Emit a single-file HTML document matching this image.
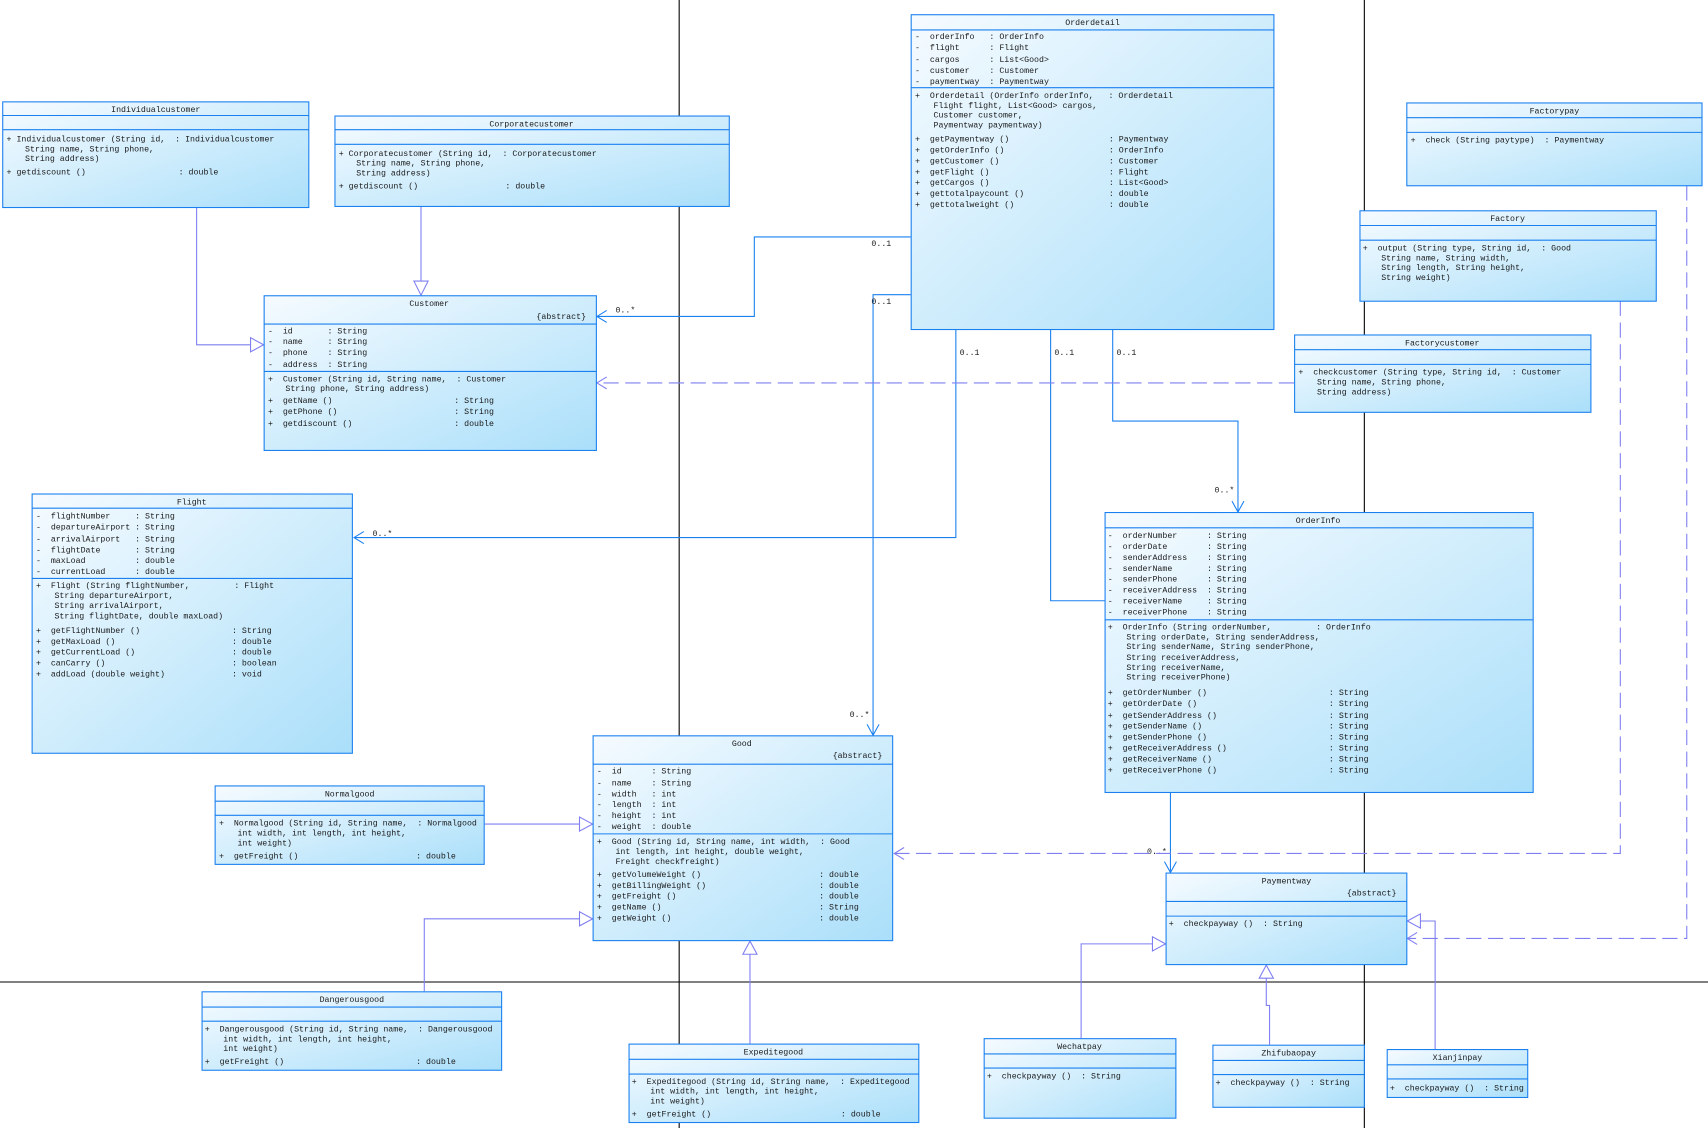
<!DOCTYPE html>
<html><head><meta charset="utf-8"><style>
html,body{margin:0;padding:0;background:#fff;}
svg{display:block;}
text{font-family:"Liberation Mono",monospace;font-size:7.6px;fill:#1a1a1a;white-space:pre;}
.b{fill:url(#g);stroke:#1a80f0;stroke-width:1;}
.l{stroke:#1a80f0;stroke-width:1;}
.a{stroke:#1a80f0;stroke-width:1;fill:none;}
.gz{stroke:#7f7ff2;stroke-width:1;fill:none;}
.tri{stroke:#7f7ff2;stroke-width:1;fill:#fff;}
.d{stroke:#7f7ff2;stroke-width:1;fill:none;stroke-dasharray:14,6;}
.k{stroke:#000;stroke-width:1;}
.c{text-anchor:middle;}
.r{text-anchor:end;}
</style></head><body>
<svg width="1708" height="1128" viewBox="0 0 1568 1035.5" xmlns="http://www.w3.org/2000/svg" xml:space="preserve">
<defs><linearGradient id="g" x1="0" y1="0" x2="1" y2="1"><stop offset="0" stop-color="#f6fbff"/><stop offset="1" stop-color="#aadffa"/></linearGradient></defs>

<line class="k" x1="623.5" y1="0" x2="623.5" y2="1036"/>
<line class="k" x1="1252.5" y1="0" x2="1252.5" y2="1036"/>
<line class="k" x1="0" y1="901.5" x2="1568" y2="901.5"/>

<polyline class="gz" points="180.5,190 180.5,316.5 232,316.5"/>
<polygon class="tri" points="242,316.5 230,310 230,323"/>
<polyline class="gz" points="386.5,189 386.5,259"/>
<polygon class="tri" points="386.5,271 380,258 393,258"/>

<polyline class="a" points="836,217.5 692.5,217.5 692.5,290.5 548,290.5"/>
<polyline class="a" points="557,285 548,290.5 557,296"/>
<text x="565" y="287">0..*</text><text x="800" y="226">0..1</text>

<polyline class="a" points="836,270.5 801.5,270.5 801.5,675"/>
<polyline class="a" points="796,665 801.5,675 807,665"/>
<text x="800" y="279">0..1</text><text x="780" y="658">0..*</text>

<polyline class="a" points="877.5,302 877.5,493.5 325,493.5"/>
<polyline class="a" points="334,488 325,493.5 334,499"/>
<text x="881" y="326">0..1</text><text x="342" y="492">0..*</text>

<polyline class="a" points="964.5,302 964.5,551.5 1014,551.5"/>
<text x="968" y="326">0..1</text>

<polyline class="a" points="1021.5,302 1021.5,386.5 1136.5,386.5 1136.5,470"/>
<polyline class="a" points="1131,460 1136.5,470 1142,460"/>
<text x="1025" y="326">0..1</text><text x="1115" y="452">0..*</text>

<polyline class="a" points="1074.5,727 1074.5,801"/>
<polyline class="a" points="1069,791 1074.5,801 1080,791"/>
<text x="1053" y="784">0..*</text>

<polyline class="d" points="1188,351.5 548,351.5"/>
<polyline class="gz" points="557,346 548,351.5 557,357"/>
<polyline class="d" points="1487.5,276 1487.5,783.5 821,783.5"/>
<polyline class="gz" points="830,778 821,783.5 830,789"/>
<polyline class="d" points="1548.5,170 1548.5,861.5 1292,861.5"/>
<polyline class="gz" points="1301,856 1292,861.5 1301,867"/>

<polyline class="gz" points="445,756.5 532,756.5"/>
<polygon class="tri" points="544,756.5 532,750 532,763"/>
<polyline class="gz" points="389.5,910 389.5,843.5 532,843.5"/>
<polygon class="tri" points="544,843.5 532,837 532,850"/>
<polyline class="gz" points="688.5,958 688.5,876"/>
<polygon class="tri" points="688.5,864 682,876 695,876"/>
<polyline class="gz" points="992.5,953 992.5,866.5 1058,866.5"/>
<polygon class="tri" points="1070,866.5 1058,860 1058,873"/>
<polyline class="gz" points="1165.5,959 1165.5,923 1162.5,923 1162.5,898"/>
<polygon class="tri" points="1162.5,886 1156,898 1169,898"/>
<polyline class="gz" points="1317.5,963 1317.5,845.5 1303,845.5"/>
<polygon class="tri" points="1292,845.5 1304,839 1304,852"/>

<rect class="b" x="2.5" y="93.5" width="281" height="97"/>
<line class="l" x1="2.5" y1="106" x2="283.5" y2="106"/><line class="l" x1="2.5" y1="119" x2="283.5" y2="119"/>
<text class="c" x="143" y="103">Individualcustomer</text>
<text x="6" y="130">+ Individualcustomer (String id,  : Individualcustomer</text>
<text x="23" y="139">String name, String phone,</text>
<text x="23" y="148">String address)</text>
<text x="6" y="160">+ getdiscount ()</text><text x="164" y="160">: double</text>

<rect class="b" x="307.5" y="106.5" width="362" height="83"/>
<line class="l" x1="307.5" y1="119" x2="669.5" y2="119"/><line class="l" x1="307.5" y1="132.5" x2="669.5" y2="132.5"/>
<text class="c" x="488" y="116">Corporatecustomer</text>
<text x="311" y="143">+ Corporatecustomer (String id,  : Corporatecustomer</text>
<text x="327" y="152">String name, String phone,</text>
<text x="327" y="161">String address)</text>
<text x="311" y="173">+ getdiscount ()</text><text x="464" y="173">: double</text>

<rect class="b" x="242.5" y="271.5" width="305" height="142"/>
<line class="l" x1="242.5" y1="297.5" x2="547.5" y2="297.5"/><line class="l" x1="242.5" y1="341" x2="547.5" y2="341"/>
<text class="c" x="394" y="281">Customer</text><text class="r" x="538" y="293">{abstract}</text>
<text x="246" y="306">-  id       : String</text>
<text x="246" y="316">-  name     : String</text>
<text x="246" y="326">-  phone    : String</text>
<text x="246" y="337">-  address  : String</text>
<text x="246" y="350">+  Customer (String id, String name,  : Customer</text>
<text x="262" y="359">String phone, String address)</text>
<text x="246" y="370">+  getName ()</text><text x="417" y="370">: String</text>
<text x="246" y="380">+  getPhone ()</text><text x="417" y="380">: String</text>
<text x="246" y="391">+  getdiscount ()</text><text x="417" y="391">: double</text>

<rect class="b" x="836.5" y="13.5" width="333" height="289"/>
<line class="l" x1="836.5" y1="27.5" x2="1169.5" y2="27.5"/><line class="l" x1="836.5" y1="80.5" x2="1169.5" y2="80.5"/>
<text class="c" x="1003" y="23">Orderdetail</text>
<text x="840" y="36">-  orderInfo   : OrderInfo</text>
<text x="840" y="46">-  flight      : Flight</text>
<text x="840" y="57">-  cargos      : List&lt;Good&gt;</text>
<text x="840" y="67">-  customer    : Customer</text>
<text x="840" y="77">-  paymentway  : Paymentway</text>
<text x="840" y="90">+  Orderdetail (OrderInfo orderInfo,   : Orderdetail</text>
<text x="857" y="99">Flight flight, List&lt;Good&gt; cargos,</text>
<text x="857" y="108">Customer customer,</text>
<text x="857" y="117">Paymentway paymentway)</text>
<text x="840" y="130">+  getPaymentway ()</text><text x="1018" y="130">: Paymentway</text>
<text x="840" y="140">+  getOrderInfo ()</text><text x="1018" y="140">: OrderInfo</text>
<text x="840" y="150">+  getCustomer ()</text><text x="1018" y="150">: Customer</text>
<text x="840" y="160">+  getFlight ()</text><text x="1018" y="160">: Flight</text>
<text x="840" y="170">+  getCargos ()</text><text x="1018" y="170">: List&lt;Good&gt;</text>
<text x="840" y="180">+  gettotalpaycount ()</text><text x="1018" y="180">: double</text>
<text x="840" y="190">+  gettotalweight ()</text><text x="1018" y="190">: double</text>

<rect class="b" x="1291.5" y="94.5" width="271" height="76"/>
<line class="l" x1="1291.5" y1="108" x2="1562.5" y2="108"/><line class="l" x1="1291.5" y1="121.5" x2="1562.5" y2="121.5"/>
<text class="c" x="1427" y="104">Factorypay</text>
<text x="1295" y="131">+  check (String paytype)  : Paymentway</text>

<rect class="b" x="1248.5" y="193.5" width="272" height="83"/>
<line class="l" x1="1248.5" y1="207" x2="1520.5" y2="207"/><line class="l" x1="1248.5" y1="220.5" x2="1520.5" y2="220.5"/>
<text class="c" x="1384" y="203">Factory</text>
<text x="1251" y="230">+  output (String type, String id,  : Good</text>
<text x="1268" y="239">String name, String width,</text>
<text x="1268" y="248">String length, String height,</text>
<text x="1268" y="257">String weight)</text>

<rect class="b" x="1188.5" y="307.5" width="272" height="71"/>
<line class="l" x1="1188.5" y1="321" x2="1460.5" y2="321"/><line class="l" x1="1188.5" y1="334.5" x2="1460.5" y2="334.5"/>
<text class="c" x="1324" y="317">Factorycustomer</text>
<text x="1192" y="344">+  checkcustomer (String type, String id,  : Customer</text>
<text x="1209" y="353">String name, String phone,</text>
<text x="1209" y="362">String address)</text>

<rect class="b" x="29.5" y="453.5" width="294" height="238"/>
<line class="l" x1="29.5" y1="466.5" x2="323.5" y2="466.5"/><line class="l" x1="29.5" y1="531" x2="323.5" y2="531"/>
<text class="c" x="176" y="463">Flight</text>
<text x="33" y="476">-  flightNumber     : String</text>
<text x="33" y="486">-  departureAirport : String</text>
<text x="33" y="497">-  arrivalAirport   : String</text>
<text x="33" y="507">-  flightDate       : String</text>
<text x="33" y="517">-  maxLoad          : double</text>
<text x="33" y="527">-  currentLoad      : double</text>
<text x="33" y="540">+  Flight (String flightNumber,         : Flight</text>
<text x="50" y="549">String departureAirport,</text>
<text x="50" y="558">String arrivalAirport,</text>
<text x="50" y="568">String flightDate, double maxLoad)</text>
<text x="33" y="581">+  getFlightNumber ()</text><text x="213" y="581">: String</text>
<text x="33" y="591">+  getMaxLoad ()</text><text x="213" y="591">: double</text>
<text x="33" y="601">+  getCurrentLoad ()</text><text x="213" y="601">: double</text>
<text x="33" y="611">+  canCarry ()</text><text x="213" y="611">: boolean</text>
<text x="33" y="621">+  addLoad (double weight)</text><text x="213" y="621">: void</text>

<rect class="b" x="197.5" y="721.5" width="247" height="72"/>
<line class="l" x1="197.5" y1="735.5" x2="444.5" y2="735.5"/><line class="l" x1="197.5" y1="748.5" x2="444.5" y2="748.5"/>
<text class="c" x="321" y="731">Normalgood</text>
<text x="201" y="758">+  Normalgood (String id, String name,  : Normalgood</text>
<text x="218" y="767">int width, int length, int height,</text>
<text x="218" y="776">int weight)</text>
<text x="201" y="788">+  getFreight ()</text><text x="382" y="788">: double</text>

<rect class="b" x="544.5" y="675.5" width="275" height="188"/>
<line class="l" x1="544.5" y1="701.5" x2="819.5" y2="701.5"/><line class="l" x1="544.5" y1="765.5" x2="819.5" y2="765.5"/>
<text class="c" x="681" y="685">Good</text><text class="r" x="810" y="696">{abstract}</text>
<text x="548" y="710">-  id      : String</text>
<text x="548" y="721">-  name    : String</text>
<text x="548" y="731">-  width   : int</text>
<text x="548" y="741">-  length  : int</text>
<text x="548" y="751">-  height  : int</text>
<text x="548" y="761">-  weight  : double</text>
<text x="548" y="775">+  Good (String id, String name, int width,  : Good</text>
<text x="565" y="784">int length, int height, double weight,</text>
<text x="565" y="793">Freight checkfreight)</text>
<text x="548" y="805">+  getVolumeWeight ()</text><text x="752" y="805">: double</text>
<text x="548" y="815">+  getBillingWeight ()</text><text x="752" y="815">: double</text>
<text x="548" y="825">+  getFreight ()</text><text x="752" y="825">: double</text>
<text x="548" y="835">+  getName ()</text><text x="752" y="835">: String</text>
<text x="548" y="845">+  getWeight ()</text><text x="752" y="845">: double</text>

<rect class="b" x="185.5" y="910.5" width="275" height="72"/>
<line class="l" x1="185.5" y1="924.5" x2="460.5" y2="924.5"/><line class="l" x1="185.5" y1="937.5" x2="460.5" y2="937.5"/>
<text class="c" x="323" y="920">Dangerousgood</text>
<text x="188" y="947">+  Dangerousgood (String id, String name,  : Dangerousgood</text>
<text x="205" y="956">int width, int length, int height,</text>
<text x="205" y="965">int weight)</text>
<text x="188" y="977">+  getFreight ()</text><text x="382" y="977">: double</text>

<rect class="b" x="577.5" y="958.5" width="266" height="72"/>
<line class="l" x1="577.5" y1="972.5" x2="843.5" y2="972.5"/><line class="l" x1="577.5" y1="986" x2="843.5" y2="986"/>
<text class="c" x="710" y="968">Expeditegood</text>
<text x="580" y="995">+  Expeditegood (String id, String name,  : Expeditegood</text>
<text x="597" y="1004">int width, int length, int height,</text>
<text x="597" y="1013">int weight)</text>
<text x="580" y="1025">+  getFreight ()</text><text x="772" y="1025">: double</text>

<rect class="b" x="1014.5" y="470.5" width="393" height="257"/>
<line class="l" x1="1014.5" y1="484.5" x2="1407.5" y2="484.5"/><line class="l" x1="1014.5" y1="569" x2="1407.5" y2="569"/>
<text class="c" x="1210" y="480">OrderInfo</text>
<text x="1017" y="494">-  orderNumber      : String</text>
<text x="1017" y="504">-  orderDate        : String</text>
<text x="1017" y="514">-  senderAddress    : String</text>
<text x="1017" y="524">-  senderName       : String</text>
<text x="1017" y="534">-  senderPhone      : String</text>
<text x="1017" y="544">-  receiverAddress  : String</text>
<text x="1017" y="554">-  receiverName     : String</text>
<text x="1017" y="564">-  receiverPhone    : String</text>
<text x="1017" y="578">+  OrderInfo (String orderNumber,         : OrderInfo</text>
<text x="1034" y="587">String orderDate, String senderAddress,</text>
<text x="1034" y="596">String senderName, String senderPhone,</text>
<text x="1034" y="606">String receiverAddress,</text>
<text x="1034" y="615">String receiverName,</text>
<text x="1034" y="624">String receiverPhone)</text>
<text x="1017" y="638">+  getOrderNumber ()</text><text x="1220" y="638">: String</text>
<text x="1017" y="648">+  getOrderDate ()</text><text x="1220" y="648">: String</text>
<text x="1017" y="659">+  getSenderAddress ()</text><text x="1220" y="659">: String</text>
<text x="1017" y="669">+  getSenderName ()</text><text x="1220" y="669">: String</text>
<text x="1017" y="679">+  getSenderPhone ()</text><text x="1220" y="679">: String</text>
<text x="1017" y="689">+  getReceiverAddress ()</text><text x="1220" y="689">: String</text>
<text x="1017" y="699">+  getReceiverName ()</text><text x="1220" y="699">: String</text>
<text x="1017" y="709">+  getReceiverPhone ()</text><text x="1220" y="709">: String</text>

<rect class="b" x="1070.5" y="801.5" width="221" height="84"/>
<line class="l" x1="1070.5" y1="827.5" x2="1291.5" y2="827.5"/><line class="l" x1="1070.5" y1="841" x2="1291.5" y2="841"/>
<text class="c" x="1181" y="811">Paymentway</text><text class="r" x="1282" y="822">{abstract}</text>
<text x="1073" y="850">+  checkpayway ()  : String</text>

<rect class="b" x="903.5" y="953.5" width="176" height="73"/>
<line class="l" x1="903.5" y1="967.5" x2="1079.5" y2="967.5"/><line class="l" x1="903.5" y1="980.5" x2="1079.5" y2="980.5"/>
<text class="c" x="991" y="963">Wechatpay</text>
<text x="906" y="990">+  checkpayway ()  : String</text>

<rect class="b" x="1113.5" y="959.5" width="139" height="57"/>
<line class="l" x1="1113.5" y1="973.5" x2="1252.5" y2="973.5"/><line class="l" x1="1113.5" y1="986.5" x2="1252.5" y2="986.5"/>
<text class="c" x="1183" y="969">Zhifubaopay</text>
<text x="1116" y="996">+  checkpayway ()  : String</text>

<rect class="b" x="1273.5" y="963.5" width="129" height="44"/>
<line class="l" x1="1273.5" y1="977.5" x2="1402.5" y2="977.5"/><line class="l" x1="1273.5" y1="990.5" x2="1402.5" y2="990.5"/>
<text class="c" x="1338" y="973">Xianjinpay</text>
<text x="1276" y="1001">+  checkpayway ()  : String</text>
</svg>
</body></html>
